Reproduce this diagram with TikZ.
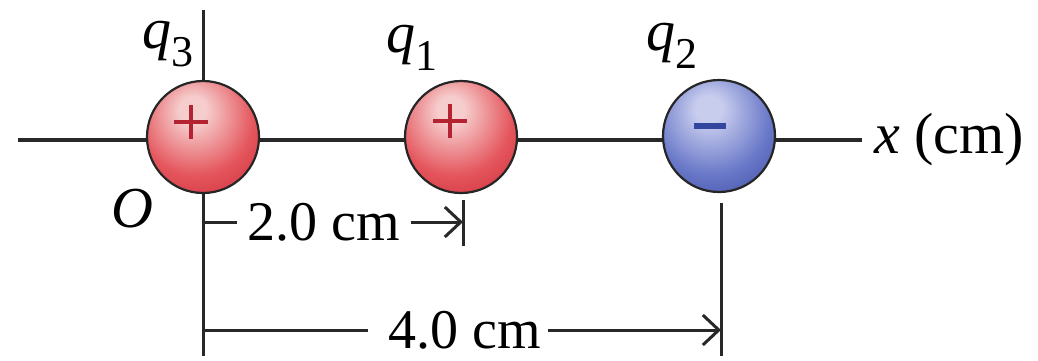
\documentclass[tikz,border=0pt]{standalone}
\usepackage{fontspec}
\setmainfont{Liberation Serif}
\usetikzlibrary{arrows.meta}
\definecolor{redhi}{RGB}{246,205,205}
\definecolor{redmid}{RGB}{228,85,92}
\definecolor{reddark}{RGB}{196,30,45}
\definecolor{bluehi}{RGB}{200,205,238}
\definecolor{bluemid}{RGB}{105,120,200}
\definecolor{bluedark}{RGB}{45,60,150}
\definecolor{signred}{RGB}{180,35,50}
\definecolor{signblue}{RGB}{50,70,160}
\definecolor{linecol}{RGB}{40,40,40}
\pgfdeclareradialshading{redball}{\pgfpoint{-5bp}{13bp}}{color(0bp)=(redhi); color(6bp)=(redhi); color(26bp)=(redmid); color(48bp)=(reddark); color(80bp)=(reddark)}
\pgfdeclareradialshading{blueball}{\pgfpoint{-5bp}{13bp}}{color(0bp)=(bluehi); color(6bp)=(bluehi); color(26bp)=(bluemid); color(48bp)=(bluedark); color(80bp)=(bluedark)}
\newcommand{\qlab}[1]{\textit{q}\raisebox{-0.3em}{\fontsize{22}{24}\selectfont #1}}
\tikzset{
  ball/.style={circle, minimum size=56pt, inner sep=0pt, draw=black!85, line width=1.1pt},
  redcharge/.style={ball, shading=redball},
  bluecharge/.style={ball, shading=blueball},
  axisline/.style={draw=linecol, line width=2pt},
  guide/.style={draw=linecol, line width=1.5pt},
  dimtext/.style={inner sep=5pt, font=\fontsize{28}{32}\selectfont},
  lbl/.style={inner sep=0pt, font=\fontsize{29}{34}\selectfont},
  dimarrow/.style={guide, -{Straight Barb[length=8pt, width=15pt, line width=1.5pt]}},
}
\begin{document}
\begin{tikzpicture}[x=0.5pt, y=-0.5pt]
\useasboundingbox (0,0) rectangle (1038,360);
% axis
\coordinate (axL) at (18,140);
\coordinate (axR) at (862,140);
\draw[axisline] (axL) -- (axR);
% vertical guides
\coordinate (v3top) at (203,10);
\coordinate (v3bot) at (203,356);
\coordinate (v2top) at (721,203);
\coordinate (v2bot) at (721,356);
\coordinate (t1top) at (463,200);
\coordinate (t1bot) at (463,246);
\draw[guide] (v3top) -- (203,90);
\draw[guide] (203,190) -- (v3bot);
\draw[guide] (v2top) -- (v2bot);
\draw[guide] (t1top) -- (t1bot);
% charges
\node[redcharge] (q3ball) at (203,137) {};
\node[redcharge] (q1ball) at (461,137) {};
\node[bluecharge] (q2ball) at (719,136) {};
% signs
\draw[signred, line width=2.4pt] (174,122) -- (208,122) (191,105) -- (191,139);
\draw[signred, line width=2.4pt] (433,121) -- (467,121) (450,104) -- (450,138);
\draw[signblue, line width=2.8pt] (694,126) -- (726,126);
% labels
\node[lbl] (lq3) at (168,44) {\qlab{3}};
\node[lbl] (lq1) at (412,48) {\qlab{1}};
\node[lbl] (lq2) at (672,46) {\qlab{2}};
\node[lbl] (lO) at (132,209) {\textit{O}};
\node[lbl, anchor=west] (lx) at ([xshift=6pt]axR) {\textit{x} (cm)};
% 2.0 cm dimension
\coordinate (d1L) at (203,222);
\coordinate (d1R) at (463,222);
\node[dimtext] (d1t) at (324,222) {2.0 cm};
\draw[guide] (d1L) -- (d1t.west);
\draw[dimarrow] (d1t.east) -- (d1R);
% 4.0 cm dimension
\coordinate (d2L) at (203,330);
\coordinate (d2R) at (721,330);
\node[dimtext, inner sep=3pt] (d2t) at (465,330) {4.0 cm};
\draw[guide] (d2L) -- ([xshift=-7pt]d2t.west);
\draw[dimarrow] (d2t.east) -- (d2R);
\end{tikzpicture}
\end{document}
